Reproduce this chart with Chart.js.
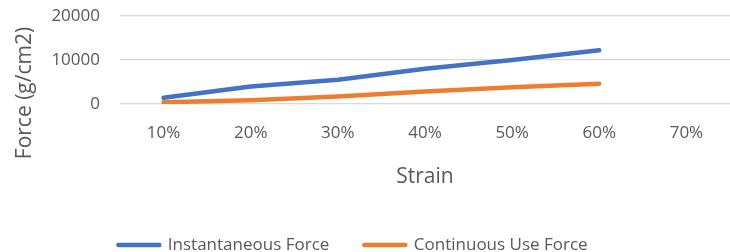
<!DOCTYPE html>
<html>
<head>
<meta charset="utf-8">
<script src="https://cdn.jsdelivr.net/npm/chart.js@4.4.1/dist/chart.umd.min.js"></script>
<style>
html,body{margin:0;padding:0;background:#fff;}
#wrap{width:730px;height:252px;position:relative;}
</style>
</head>
<body>
<div id="wrap"><canvas id="c"></canvas></div>
<script>
// ---- data ----
const categories = ['10%', '20%', '30%', '40%', '50%', '60%', '70%'];
const instantaneousForce = [1400, 4000, 5500, 8000, 10000, 12200, null];
const continuousUseForce = [400, 850, 1700, 2850, 3800, 4600, null];
const seriesNames = ['Instantaneous Force', 'Continuous Use Force'];
const yTickValues = [0, 10000, 20000];
const xTitle = 'Strain';
const yTitle = 'Force (g/cm2)';

// ---- styles ----
const FONT = "'Open Sans', sans-serif";
const TXT = '#595959';
const COLORS = ['#4472C4', '#ED7D31'];
const LINE_W = 4.5;

const yTitlePlugin = {
  id: 'yTitlePlugin',
  afterDraw(chart) {
    const ctx = chart.ctx;
    ctx.save();
    ctx.translate(25, 93);
    ctx.rotate(-Math.PI / 2);
    ctx.font = "21px " + FONT;
    ctx.fillStyle = TXT;
    ctx.textAlign = 'center';
    ctx.textBaseline = 'middle';
    ctx.fillText(yTitle, 0, 0);
    ctx.restore();
  }
};

const legendShift = {
  id: 'legendShift',
  afterLayout(chart) {
    const l = chart.legend;
    l.left -= 12; l.right -= 12;
  }
};

new Chart(document.getElementById('c'), {
  type: 'line',
  data: {
    labels: categories,
    datasets: [
      { label: seriesNames[0], data: instantaneousForce, borderColor: COLORS[0], backgroundColor: COLORS[0], borderWidth: LINE_W },
      { label: seriesNames[1], data: continuousUseForce, borderColor: COLORS[1], backgroundColor: COLORS[1], borderWidth: LINE_W }
    ]
  },
  options: {
    responsive: true,
    maintainAspectRatio: false,
    animation: false,
    devicePixelRatio: 1,
    elements: {
      line: { borderCapStyle: 'round', borderJoinStyle: 'round', tension: 0 },
      point: { radius: 0, hoverRadius: 0 }
    },
    layout: { padding: { top: 16, left: 0, right: 0, bottom: -11.5 } },
    plugins: {
      legend: {
        position: 'bottom',
        labels: {
          usePointStyle: true,
          pointStyle: 'line',
          pointStyleWidth: 41,
          padding: 35,
          color: TXT,
          font: { family: FONT, size: 17 },
          generateLabels(chart) {
            const items = Chart.defaults.plugins.legend.labels.generateLabels(chart);
            items.forEach(it => {
              it.lineWidth = LINE_W;
              it.lineCap = 'round';
              it.strokeStyle = COLORS[it.datasetIndex];
              it.fillStyle = COLORS[it.datasetIndex];
              it.fontColor = TXT;
            });
            return items;
          }
        }
      },
      tooltip: { enabled: false }
    },
    scales: {
      x: {
        offset: true,
        grid: { display: false, drawTicks: false },
        border: { display: false },
        ticks: { color: TXT, font: { family: FONT, size: 17 }, padding: 19, maxRotation: 0 },
        title: { display: true, text: xTitle, color: TXT, font: { family: FONT, size: 21 }, padding: { top: 0, bottom: 12 } },
        afterFit(s) { s.height = 97.5; }
      },
      y: {
        min: 0, max: 20000,
        afterBuildTicks(s) { s.ticks = yTickValues.map(v => ({ value: v })); },
        grid: { color: '#d9d9d9', lineWidth: 1.3, drawTicks: false },
        border: { display: false },
        ticks: { color: TXT, font: { family: FONT, size: 17 }, padding: 20, callback: v => String(v) },
        title: { display: false },
        afterFit(s) { s.width = 120; s.paddingTop = 8; s.paddingBottom = 8; }
      }
    }
  },
  plugins: [yTitlePlugin, legendShift]
});
</script>
</body>
</html>
